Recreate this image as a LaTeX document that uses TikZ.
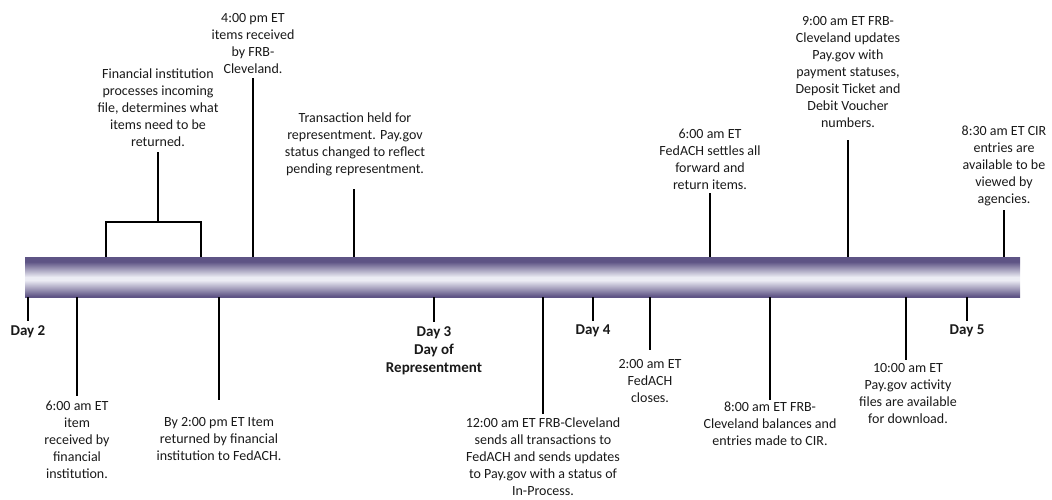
\documentclass[tikz,border=0pt]{standalone}
\usepackage{fontspec}
\setmainfont{Carlito}
\definecolor{bdk}{RGB}{94,84,133}
\definecolor{blt}{RGB}{236,236,244}
\definecolor{txt}{RGB}{25,25,25}
\pgfdeclareverticalshading{barshade}{100bp}{color(0bp)=(bdk); color(26bp)=(bdk); color(46bp)=(blt); color(50bp)=(blt); color(69bp)=(bdk); color(100bp)=(bdk)}
\begin{document}
\begin{tikzpicture}[x=1pt,y=-1pt,
  lbl/.style={align=center, font=\fontsize{14}{17}\selectfont, text=txt, inner sep=0pt},
  daylbl/.style={lbl, font=\fontsize{15}{18}\selectfont\bfseries},
  tick/.style={line width=1.8pt, draw=black}]
\useasboundingbox (0,0) rectangle (1052,499);
\node[shading=barshade, minimum width=995pt, minimum height=40pt, inner sep=0pt] (bar) at (522.5,277) {};

% ---- above the bar ----
\node[lbl, anchor=south] (fi) at (158,147) {Financial institution\\processes incoming\\file, determines what\\items need to be\\returned.};
\coordinate (fiT) at (158,152);
\coordinate (fiB) at (158,222);
\coordinate (bl) at (106,222);
\coordinate (br) at (201,222);
\draw[tick] (fiT) -- (fiB);
\draw[tick] (bar.north -| bl) -- (bl) -- (br) -- (bar.north -| br);

\node[lbl, anchor=south] (frb) at (253,74) {4:00 pm ET\\items received\\by FRB-\\Cleveland.};
\coordinate (frbT) at (253,78);
\draw[tick] (frbT) -- (bar.north -| frbT);

\node[lbl, anchor=south] (held) at (355,176) {Transaction held for\\representment. Pay.gov\\status changed to reflect\\pending representment.};
\coordinate (heldT) at (354,189);
\draw[tick] (heldT) -- (bar.north -| heldT);

\node[lbl, anchor=south] (settle) at (710,190) {6:00 am ET\\FedACH settles all\\forward and\\return items.};
\coordinate (settleT) at (710,193);
\draw[tick] (settleT) -- (bar.north -| settleT);

\node[lbl, anchor=south] (nine) at (848,128) {9:00 am ET FRB-\\Cleveland updates\\Pay.gov with\\payment statuses,\\Deposit Ticket and\\Debit Voucher\\numbers.};
\coordinate (nineT) at (848,140);
\draw[tick] (nineT) -- (bar.north -| nineT);

\node[lbl, anchor=south] (cir) at (1004,206) {8:30 am ET CIR\\entries are\\available to be\\viewed by\\agencies.};
\coordinate (cirT) at (1004,210);
\draw[tick] (cirT) -- (bar.north -| cirT);

% ---- below the bar ----
\node[daylbl, anchor=north] (d2) at (28,325) {Day 2};
\coordinate (d2T) at (28,321);
\draw[tick] (bar.south -| d2T) -- (d2T);

\node[lbl, anchor=north] (six) at (77,401) {6:00 am ET\\item\\received by\\financial\\institution.};
\coordinate (sixT) at (77,396);
\draw[tick] (bar.south -| sixT) -- (sixT);

\node[lbl, anchor=north] (by2) at (219,417) {By 2:00 pm ET Item\\returned by financial\\institution to FedACH.};
\coordinate (by2T) at (219,400);
\draw[tick] (bar.south -| by2T) -- (by2T);

\node[daylbl, anchor=north] (d3) at (434,326) {Day 3\\Day of\\Representment};
\coordinate (d3T) at (434,322);
\draw[tick] (bar.south -| d3T) -- (d3T);

\node[lbl, anchor=north] (twelve) at (543,418) {12:00 am ET FRB-Cleveland\\sends all transactions to\\FedACH and sends updates\\to Pay.gov with a status of\\In-Process.};
\coordinate (twelveT) at (543,414);
\draw[tick] (bar.south -| twelveT) -- (twelveT);

\node[daylbl, anchor=north] (d4) at (593,325) {Day 4};
\coordinate (d4T) at (593,321);
\draw[tick] (bar.south -| d4T) -- (d4T);

\node[lbl, anchor=north] (two) at (650,359) {2:00 am ET\\FedACH\\closes.};
\coordinate (twoT) at (650,350);
\draw[tick] (bar.south -| twoT) -- (twoT);

\node[lbl, anchor=north] (eight) at (770,402) {8:00 am ET FRB-\\Cleveland balances and\\entries made to CIR.};
\coordinate (eightT) at (770,400);
\draw[tick] (bar.south -| eightT) -- (eightT);

\node[lbl, anchor=north] (ten) at (908,363) {10:00 am ET\\Pay.gov activity\\files are available\\for download.};
\coordinate (tenT) at (906,360);
\draw[tick] (bar.south -| tenT) -- (tenT);

\node[daylbl, anchor=north] (d5) at (967,325) {Day 5};
\coordinate (d5T) at (967,321);
\draw[tick] (bar.south -| d5T) -- (d5T);
\end{tikzpicture}
\end{document}
